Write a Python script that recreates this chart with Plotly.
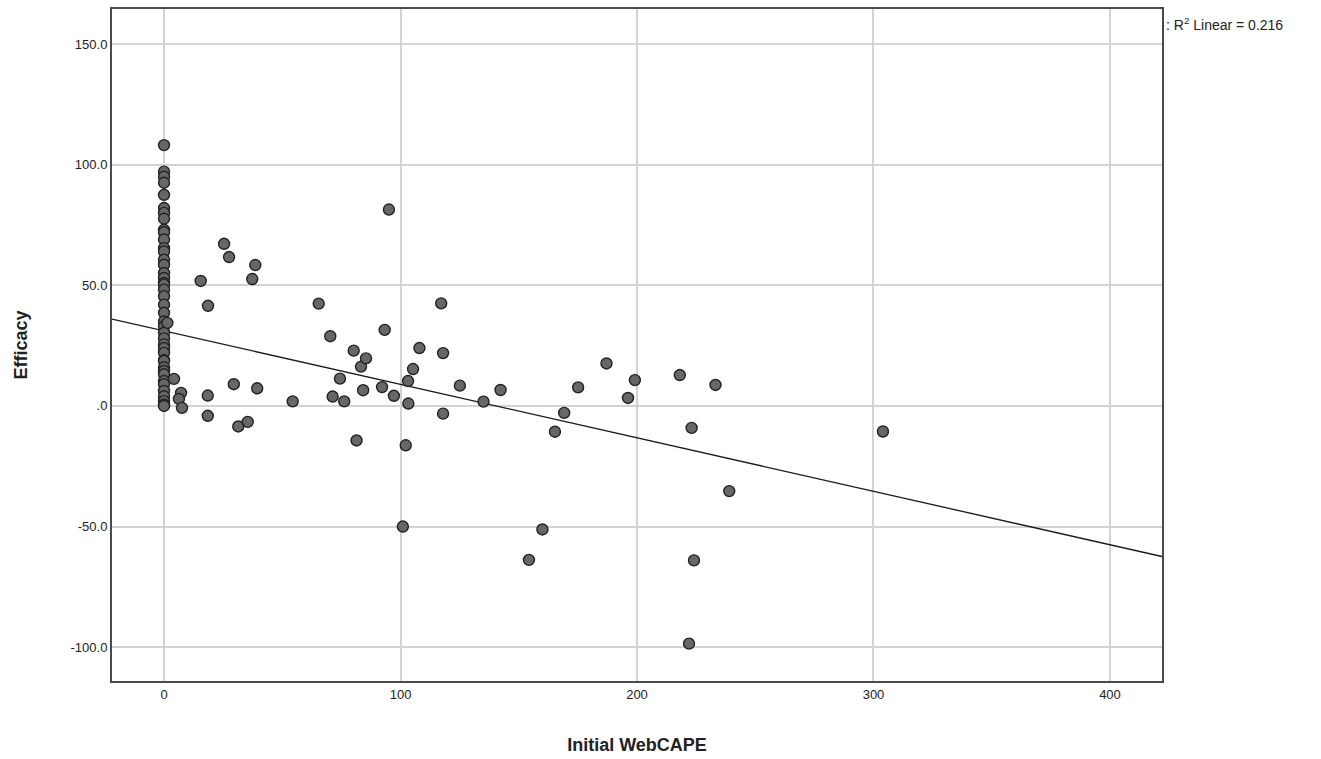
import plotly.graph_objects as go

# Initial WebCAPE score vs. efficacy, one point per student
webcape = [
    0, 0, 0, 0, 0, 0, 0, 0, 0, 0, 0, 0, 0, 0, 0, 0, 0, 0, 0, 0,
    0, 0, 0, 0, 0, 0, 0, 0, 0, 0, 0, 0, 0, 0, 0, 0, 0, 0, 0, 0, 0, 0,
    1.4, 4.2, 7.2, 6.3, 7.6,
    15.5, 18.6, 25.4, 27.5, 37.3, 38.6, 29.5, 39.4, 18.5, 18.5, 31.4, 35.4,
    54.4, 65.4, 70.3, 71.3, 74.4, 76.2, 80.2, 81.4, 83.3, 84.2, 85.4, 92.2,
    93.3, 95.1, 97.2, 101.0, 102.2, 103.2, 103.3, 105.3, 108.0, 117.2, 118.0,
    118.0, 125.1, 135.1, 142.3, 154.3, 160.0, 165.3, 169.2, 175.1, 187.1,
    196.2, 199.1, 218.1, 222.0, 223.1, 224.1, 233.2, 239.0, 304.0,
]
efficacy = [
    108.1, 97.1, 95.0, 92.5, 87.5, 82.0, 80.0, 77.6, 73.0, 72.0, 69.0, 65.4,
    64.0, 60.6, 58.5, 55.1, 53.0, 51.0, 50.3, 48.2, 45.5, 42.0, 38.6, 35.0,
    33.0, 30.3, 28.0, 25.5, 24.0, 22.0, 19.0, 18.6, 16.0, 14.5, 13.1, 10.3,
    9.0, 6.2, 4.0, 2.0, 0.5, 0.0,
    34.4, 11.2, 5.4, 2.9, -0.8,
    51.8, 41.5, 67.2, 61.7, 52.6, 58.4, 9.0, 7.3, 4.3, -4.1, -8.5, -6.6,
    1.9, 42.4, 28.9, 3.9, 11.3, 1.9, 22.9, -14.3, 16.3, 6.5, 19.7, 7.8,
    31.5, 81.4, 4.2, -50.0, -16.3, 10.3, 1.0, 15.3, 24.0, 42.5, 21.9,
    -3.2, 8.4, 1.8, 6.6, -63.8, -51.2, -10.7, -2.9, 7.7, 17.6,
    3.3, 10.7, 12.8, -98.5, -9.1, -64.0, 8.7, -35.3, -10.6,
]

# Linear fit (R^2 = 0.216)
fit_intercept = 31.1
fit_slope = -0.2216
fit_x = [-22, 422]
fit_y = [fit_intercept + fit_slope * v for v in fit_x]

y_ticks = [150, 100, 50, 0, -50, -100]
y_tick_text = ["150.0", "100.0", "50.0", ".0", "-50.0", "-100.0"]
x_ticks = [0, 100, 200, 300, 400]
x_tick_text = ["0", "100", "200", "300", "400"]

font_family = "Liberation Sans, Arial, sans-serif"

fig = go.Figure()
fig.add_trace(go.Scatter(
    x=fit_x, y=fit_y, mode="lines",
    line=dict(color="#1a1a1a", width=1.3),
    hoverinfo="skip", showlegend=False,
))
fig.add_trace(go.Scatter(
    x=webcape, y=efficacy, mode="markers",
    marker=dict(size=11, color="#676767",
                line=dict(color="#222222", width=1.4)),
    showlegend=False,
))

axis_common = dict(
    showline=True, linecolor="#4a4a4a", linewidth=2, mirror=True,
    showgrid=True, gridcolor="#d3d3d3", gridwidth=2,
    zeroline=False, ticks="",
    tickfont=dict(family=font_family, size=13, color="#222222"),
)

fig.update_layout(
    width=1321, height=759,
    margin=dict(l=112, r=159, t=7, b=78),
    paper_bgcolor="white", plot_bgcolor="white",
    font=dict(family=font_family, color="#222222"),
    xaxis=dict(
        range=[-22, 422], tickvals=x_ticks, ticktext=x_tick_text,
        title=dict(text="<b>Initial WebCAPE</b>", standoff=38,
                   font=dict(family=font_family, size=18, color="#222222")),
        **axis_common,
    ),
    yaxis=dict(
        range=[-114, 164.5], tickvals=y_ticks, ticktext=y_tick_text,
        title=dict(text="<b>Efficacy</b>", standoff=38,
                   font=dict(family=font_family, size=18, color="#222222")),
        **axis_common,
    ),
    annotations=[dict(
        x=1.0, y=1.0, xref="paper", yref="paper",
        xanchor="left", yanchor="top", xshift=2, yshift=-4,
        text=": R<sup>2</sup> Linear = 0.216", showarrow=False,
        font=dict(family=font_family, size=14, color="#222222"),
    )],
)

fig.write_html("out.html")
